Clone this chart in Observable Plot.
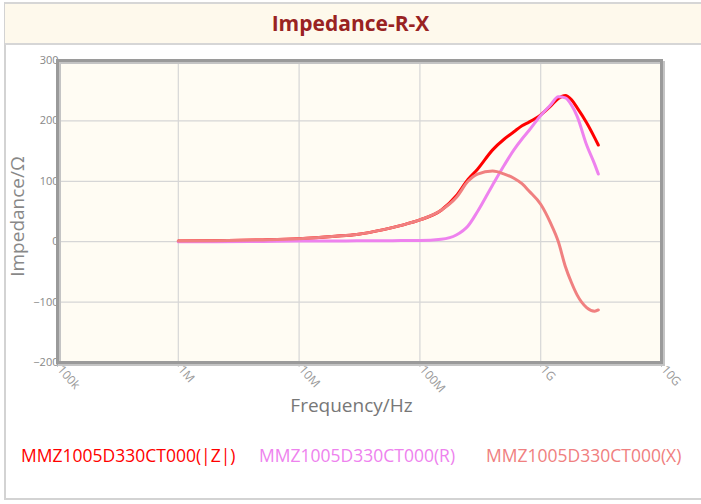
<!DOCTYPE html>
<html><head><meta charset="utf-8">
<script src="https://cdn.jsdelivr.net/npm/d3@7"></script>
<script src="https://cdn.jsdelivr.net/npm/@observablehq/plot@0.6"></script>
<style>
html,body{margin:0;padding:0;background:#fff;width:701px;height:504px;overflow:hidden;font-family:"Open Sans",sans-serif;}
#box{position:absolute;left:4px;top:2px;width:720px;height:498px;border:2px solid #d3d3d3;border-right:none;box-sizing:border-box;}
#head{position:absolute;left:5px;top:2px;width:720px;height:43px;background:#fef9ec;border-top:2px solid #d6d6d6;border-bottom:2px solid #d6d6d6;box-sizing:border-box;}
#title{position:absolute;left:0;width:701px;top:13px;line-height:21px;text-align:center;font-weight:bold;font-size:21px;color:#992222;}
#chart{position:absolute;left:0;top:45px;}
.leg{position:absolute;top:447px;line-height:17.5px;font-size:17.5px;white-space:nowrap;}
</style></head>
<body>
<div id="box"></div>
<div id="head"></div>
<div id="title">Impedance-R-X</div>
<div id="chart"></div>
<div id="legend"></div>
<script>
const freqHz = [1e6,2e6,5e6,1e7,2e7,3e7,5e7,7e7,1e8,1.5e8,2e8,2.5e8,3e8,4e8,5e8,6e8,7e8,8e8,1e9,1.2e9,1.4e9,1.6e9,1.8e9,2e9,2.4e9,2.8e9,3e9];
const zValues = [1,1.5,3,5,9,12,20,27,36,52,76,103,120,152,170,182,192,198,210,224,237,242,235,222,197,172,160];
const rValues = [0,0,0.5,1,1,1.5,1.5,2,2,4,11,26,50,94,127,152,170,184,209,226,240,238,226,208,160,128,112];
const xValues = [1,1.5,3,5,9,12,20,27,36,52,73,100,112,117,112,105,96,84,62,32,0,-41,-68,-88,-109,-115,-113];
const seriesNames = ["MMZ1005D330CT000(|Z|)","MMZ1005D330CT000(R)","MMZ1005D330CT000(X)"];
const seriesColors = ["#ff0000","#ee82ee","#f08080"];
const xTicks = [1e5,1e6,1e7,1e8,1e9,1e10];
const xTickLabels = ["100k","1M","10M","100M","1G","10G"];
const yTicks = [-200,-100,0,100,200,300];

const valueSets = [zValues, rValues, xValues];
const rows = [];
valueSets.forEach((vals, s) => vals.forEach((v, i) => rows.push({f: freqHz[i], v, s: seriesNames[s]})));

const lineMarks = [];
seriesNames.forEach((name, s) => {
  const data = rows.filter(d => d.s === name);
  lineMarks.push(Plot.line(data, {x: "f", y: "v", stroke: "#333", strokeOpacity: 0.6, strokeWidth: 3, dx: 2, dy: 2, curve: "monotone-x", ariaLabel: "shadow"}));
});
seriesNames.forEach((name, s) => {
  const data = rows.filter(d => d.s === name);
  lineMarks.push(Plot.line(data, {x: "f", y: "v", stroke: seriesColors[s], strokeWidth: 3, curve: "monotone-x"}));
});

const chart = Plot.plot({
  width: 701,
  height: 395,
  marginLeft: 57,
  marginRight: 40,
  marginTop: 15,
  marginBottom: 78,
  style: {background: "transparent", fontFamily: "Open Sans, sans-serif"},
  x: {type: "log", domain: [1e5, 1e10], axis: null},
  y: {domain: [-200, 300], axis: null},
  marks: [
    Plot.frame({fill: "#fffcf3", stroke: null}),
    Plot.ruleX(xTicks, {stroke: "#d6d6d6", strokeWidth: 1.2}),
    Plot.ruleY(yTicks, {stroke: "#d6d6d6", strokeWidth: 1.2}),
    Plot.axisX(xTicks, {tickFormat: () => "", label: null, tickSize: 5, stroke: "#c8c8c8"}),
    Plot.text(xTicks, {x: d => d, text: (d, i) => xTickLabels[i], frameAnchor: "bottom", lineAnchor: "middle", textAnchor: "start", rotate: 48, dy: 5, dx: 2, fontSize: 12, fill: "#999"}),
    Plot.axisY(yTicks, {tickSize: 0, tickPadding: -1, fontSize: 11, color: "#888", label: null}),
    Plot.frame({stroke: "#c4c4c4", strokeWidth: 3, dx: 2, dy: 2, fill: null}),
    Plot.frame({stroke: "#9a9a9a", strokeWidth: 3, fill: null}),
    ...lineMarks,
    Plot.text(["Frequency/Hz"], {frameAnchor: "bottom", textAnchor: "middle", dy: 49, dx: -8, fontSize: 19, fill: "#777"}),
    Plot.text(["Impedance/Ω"], {frameAnchor: "left", textAnchor: "middle", dx: -40, dy: 5, rotate: -90, fontSize: 19, fill: "#888"})
  ]
});
const ns = "http://www.w3.org/2000/svg";
const defs = document.createElementNS(ns, "defs");
defs.innerHTML = '<filter id="blurShadow" x="-10%" y="-10%" width="120%" height="120%"><feGaussianBlur stdDeviation="1"/></filter>';
chart.insertBefore(defs, chart.firstChild);
chart.querySelectorAll('g[aria-label="shadow"]').forEach(g => g.setAttribute("filter", "url(#blurShadow)"));
document.getElementById("chart").appendChild(chart);

const legendLefts = [21, 259, 486];
const legend = document.getElementById("legend");
seriesNames.forEach((name, i) => {
  const sp = document.createElement("span");
  sp.className = "leg";
  sp.style.left = legendLefts[i] + "px";
  sp.style.color = seriesColors[i];
  sp.textContent = name;
  legend.appendChild(sp);
});
</script>
</body></html>
